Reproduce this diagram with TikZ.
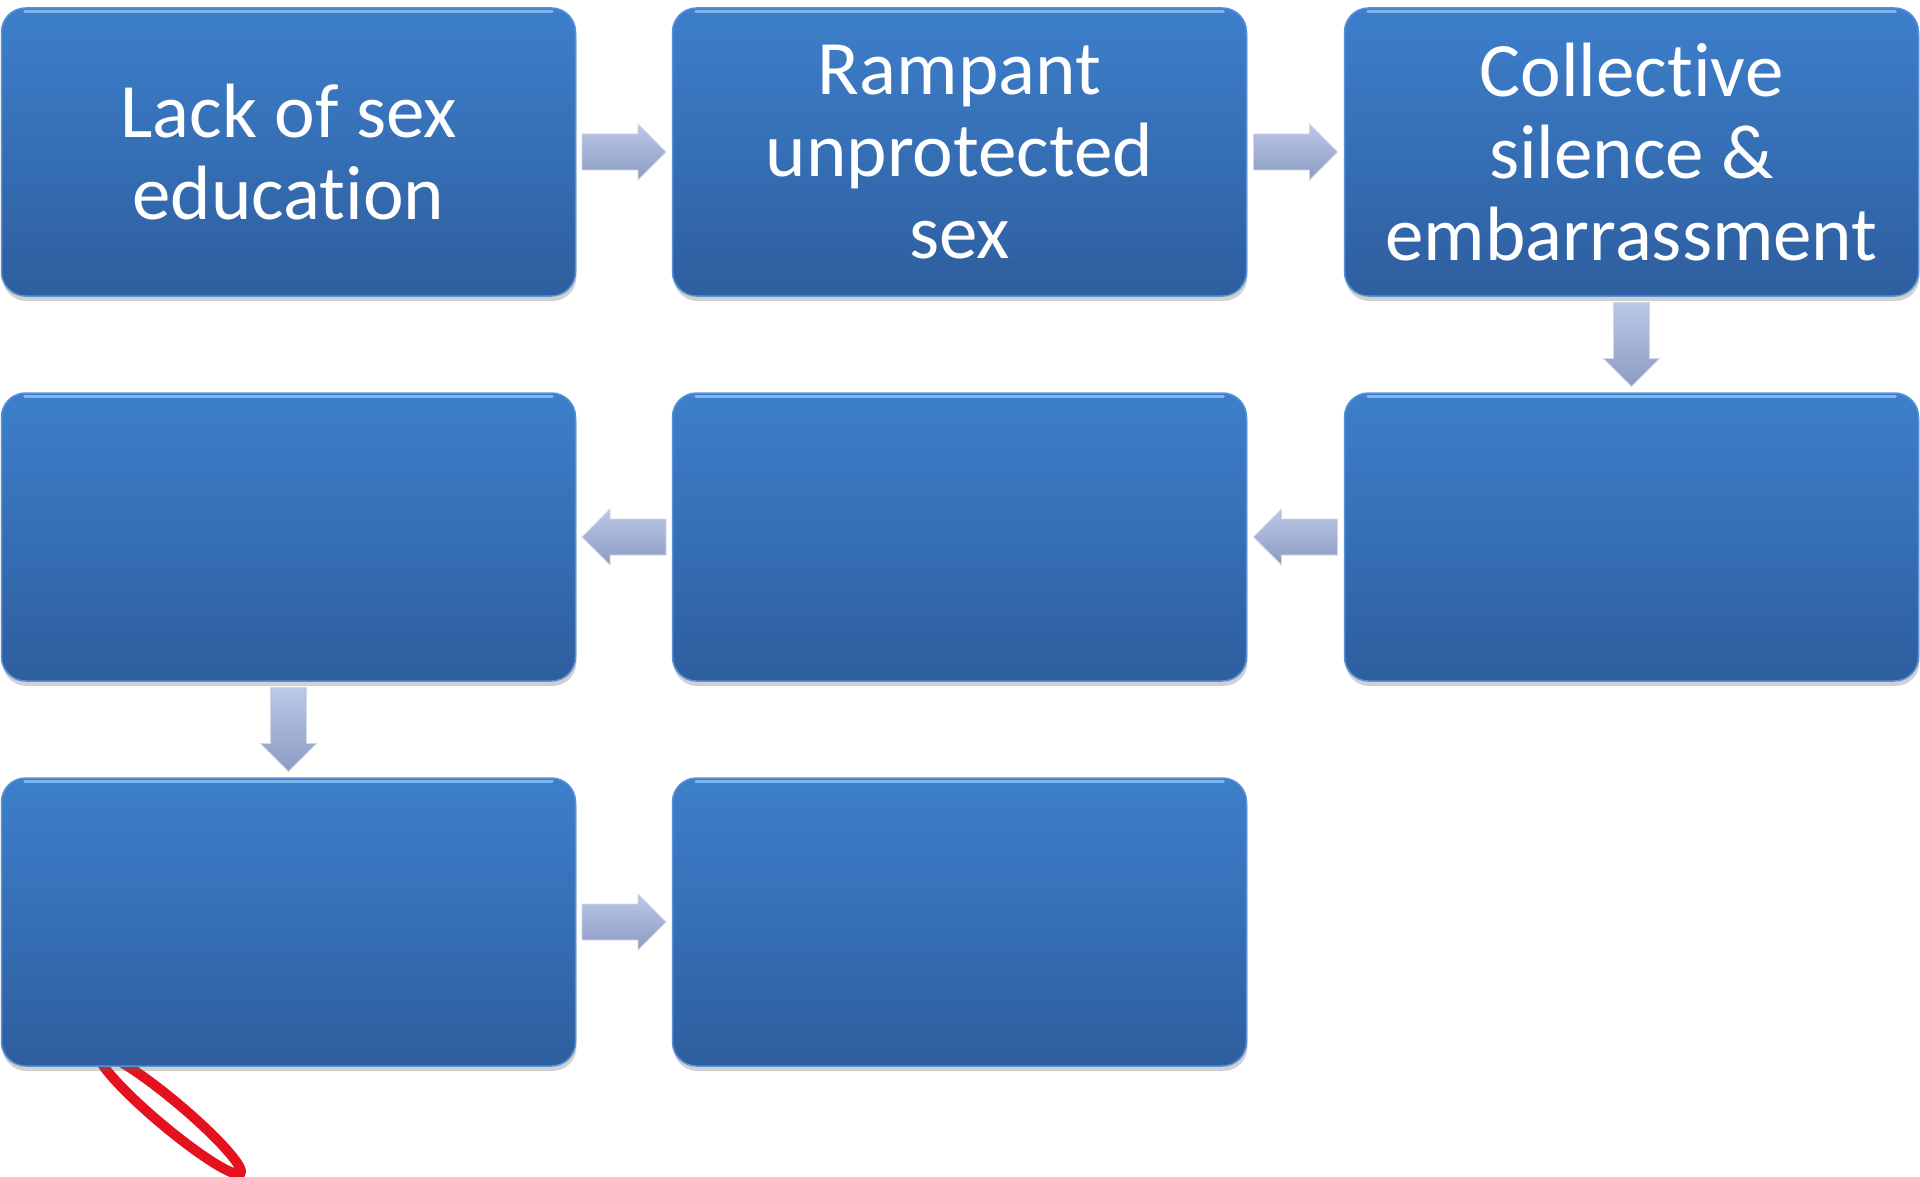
\documentclass[tikz,border=0pt]{standalone}
\usepackage{fontspec}
\setmainfont[Ligatures={NoCommon}]{Carlito}
\usetikzlibrary{calc,shadows}
\definecolor{boxtop}{RGB}{61,127,203}
\definecolor{boxbot}{RGB}{46,94,158}
\definecolor{boxedge}{RGB}{88,146,214}
\definecolor{boxhi}{RGB}{140,198,246}
\definecolor{arrtop}{RGB}{188,200,230}
\definecolor{arrbot}{RGB}{140,155,196}
\definecolor{markred}{RGB}{228,18,30}
\begin{document}
\begin{tikzpicture}[x=1pt,y=-1pt,
  flowbox/.style={rounded corners=24pt, minimum width=574pt, minimum height=288pt,
    top color=boxtop, bottom color=boxbot, draw=boxedge, line width=1.5pt,
    text=white, align=center, inner sep=0pt,
    font=\fontsize{77pt}{82pt}\selectfont,
    drop shadow={shadow xshift=1pt, shadow yshift=-5pt, opacity=0.3, fill=black!60}},
  boxhl/.style={draw=boxhi, line width=3pt, line cap=round, opacity=.8},
  barrow/.pic={\path[top color=arrtop, bottom color=arrbot, draw=white!60!arrbot, line width=0.8pt]
     (-42,-18) -- (14,-18) -- (14,-28) -- (42,0) -- (14,28) -- (14,18) -- (-42,18) -- cycle;},
  redmark/.style={draw=markred, line width=10pt}]
\useasboundingbox (0,0) rectangle (1920,1177);
% red hand-drawn mark
\draw[redmark, shift={(170,1114)}, rotate=-40] (0,0) ellipse [x radius=92, y radius=13];
% boxes
\node[flowbox] (b1) at (288.5,152) {Lack of sex\\education};
\node[flowbox] (b2) at (959.5,152) {Rampant\\unprotected\\sex};
\node[flowbox] (b3) at (1631.5,152) {Collective\\silence \&\\embarrassment};
\node[flowbox] (b4) at (288.5,537) {};
\node[flowbox] (b5) at (959.5,537) {};
\node[flowbox] (b6) at (1631.5,537) {};
\node[flowbox] (b7) at (288.5,922) {};
\node[flowbox] (b8) at (959.5,922) {};
\foreach \n in {b1,b2,b3,b4,b5,b6,b7,b8}
  \draw[boxhl] ([xshift=24pt,yshift=-4pt]\n.north west) -- ([xshift=-24pt,yshift=-4pt]\n.north east);
% block arrows
\pic at ($(b1.east)!.5!(b2.west)$) {barrow};
\pic at ($(b2.east)!.5!(b3.west)$) {barrow};
\pic[rotate=-90] at ($(b3.south)!.5!(b6.north)$) {barrow};
\pic[rotate=180] at ($(b6.west)!.5!(b5.east)$) {barrow};
\pic[rotate=180] at ($(b5.west)!.5!(b4.east)$) {barrow};
\pic[rotate=-90] at ($(b4.south)!.5!(b7.north)$) {barrow};
\pic at ($(b7.east)!.5!(b8.west)$) {barrow};
\end{tikzpicture}
\end{document}
